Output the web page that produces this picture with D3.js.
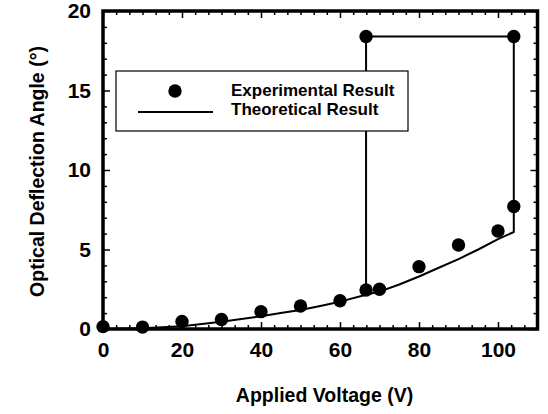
<!DOCTYPE html>
<html>
<head>
<meta charset="utf-8">
<script src="https://cdn.jsdelivr.net/npm/d3@7"></script>
<style>
  html, body { margin: 0; padding: 0; background: #fff; }
  svg { display: block; }
  text { font-family: "Liberation Sans", Arial, sans-serif; font-weight: bold; fill: #000; }
</style>
</head>
<body>
<svg id="chart" width="548" height="414"></svg>
<script>
// ---- data ----
const expVoltage = [0, 10, 20, 30, 40, 50, 60, 66.6, 70, 80, 90, 100, 104, 66.6, 104];
const expAngle   = [0.15, 0.12, 0.47, 0.6, 1.09, 1.45, 1.78, 2.45, 2.5, 3.92, 5.28, 6.16, 7.7, 18.4, 18.4];

const theoVoltage = [0, 10, 20, 30, 40, 45, 50, 55, 60, 66.6, 70, 75, 80, 85, 90, 95, 100, 104, 104, 66.6, 66.6];
const theoAngle   = [0, 0.05, 0.18, 0.45, 0.8, 1.0, 1.2, 1.45, 1.72, 2.15, 2.35, 2.8, 3.3, 3.85, 4.4, 5.0, 5.65, 6.1, 18.4, 18.4, 2.15];

const xMajorTicks = [0, 20, 40, 60, 80, 100];
const yMajorTicks = [0, 5, 10, 15, 20];
const legendLabels = ["Experimental Result", "Theoretical Result"];
const xTitle = "Applied Voltage (V)";
const yTitle = "Optical Deflection Angle (°)";

// ---- layout ----
const svg = d3.select("#chart");
const L = 103, R = 537.5, T = 11, B = 329;
const x = d3.scaleLinear().domain([0, 110]).range([L, R]);
const y = d3.scaleLinear().domain([0, 20]).range([B, T]);

const xMinor = d3.range(0, 110.01, 20 / 6).filter(v => !xMajorTicks.some(m => Math.abs(m - v) < 1e-6));
const yMinor = d3.range(0, 20.01, 1).filter(v => v % 5 !== 0);

function styleAxis(g) {
  g.select(".domain").remove();
  g.selectAll(".tick line").attr("stroke", "#000").attr("stroke-width", 1.5);
  g.selectAll(".tick text").style("font-size", "21px").attr("font-family", null);
}

// bottom major with labels
svg.append("g").attr("transform", `translate(0,${B})`)
  .call(d3.axisBottom(x).tickValues(xMajorTicks).tickSize(-7).tickPadding(13).tickFormat(d3.format("d")))
  .call(styleAxis);
svg.append("g").attr("transform", `translate(0,${B})`)
  .call(d3.axisBottom(x).tickValues(xMinor).tickSize(-4).tickFormat(""))
  .call(styleAxis);
// top
svg.append("g").attr("transform", `translate(0,${T})`)
  .call(d3.axisTop(x).tickValues(xMajorTicks).tickSize(-7).tickFormat(""))
  .call(styleAxis);
svg.append("g").attr("transform", `translate(0,${T})`)
  .call(d3.axisTop(x).tickValues(xMinor).tickSize(-4).tickFormat(""))
  .call(styleAxis);
// left major with labels
svg.append("g").attr("transform", `translate(${L},0)`)
  .call(d3.axisLeft(y).tickValues(yMajorTicks).tickSize(-7).tickPadding(12).tickFormat(d3.format("d")))
  .call(styleAxis);
svg.append("g").attr("transform", `translate(${L},0)`)
  .call(d3.axisLeft(y).tickValues(yMinor).tickSize(-4).tickFormat(""))
  .call(styleAxis);
// right
svg.append("g").attr("transform", `translate(${R},0)`)
  .call(d3.axisRight(y).tickValues(yMajorTicks).tickSize(-7).tickFormat(""))
  .call(styleAxis);
svg.append("g").attr("transform", `translate(${R},0)`)
  .call(d3.axisRight(y).tickValues(yMinor).tickSize(-4).tickFormat(""))
  .call(styleAxis);

// ---- theoretical line ----
const theo = theoVoltage.map((v, i) => [v, theoAngle[i]]);
svg.append("path")
  .datum(theo)
  .attr("fill", "none")
  .attr("stroke", "#000")
  .attr("stroke-width", 2)
  .attr("stroke-linejoin", "round")
  .attr("d", d3.line().x(d => x(d[0])).y(d => y(d[1])));

// ---- frame ----
svg.append("rect")
  .attr("x", L).attr("y", T)
  .attr("width", R - L).attr("height", B - T)
  .attr("fill", "none").attr("stroke", "#000").attr("stroke-width", 3.5);

// ---- experimental points ----
const exp = expVoltage.map((v, i) => [v, expAngle[i]]);
svg.append("g").selectAll("circle")
  .data(exp).join("circle")
  .attr("cx", d => x(d[0])).attr("cy", d => y(d[1]))
  .attr("r", 6.7).attr("fill", "#000");

// ---- legend ----
const lg = svg.append("g");
lg.append("rect").attr("x", 116).attr("y", 71).attr("width", 292).attr("height", 60)
  .attr("fill", "#fff").attr("stroke", "#000").attr("stroke-width", 1.2);
lg.append("circle").attr("cx", 175).attr("cy", 91).attr("r", 6.7).attr("fill", "#000");
lg.append("line").attr("x1", 138).attr("x2", 213).attr("y1", 112).attr("y2", 112)
  .attr("stroke", "#000").attr("stroke-width", 2);
lg.selectAll("text").data(legendLabels).join("text")
  .attr("x", 231).attr("y", (d, i) => 96 + i * 19)
  .style("font-size", "17px")
  .text(d => d);

// ---- axis titles ----
svg.append("text")
  .attr("x", 324.5).attr("y", 402)
  .attr("text-anchor", "middle")
  .style("font-size", "19.5px")
  .text(xTitle);
svg.append("text")
  .attr("transform", `translate(44,171.5) rotate(-90)`)
  .attr("text-anchor", "middle")
  .style("font-size", "19.5px")
  .text(yTitle);
</script>
</body>
</html>
